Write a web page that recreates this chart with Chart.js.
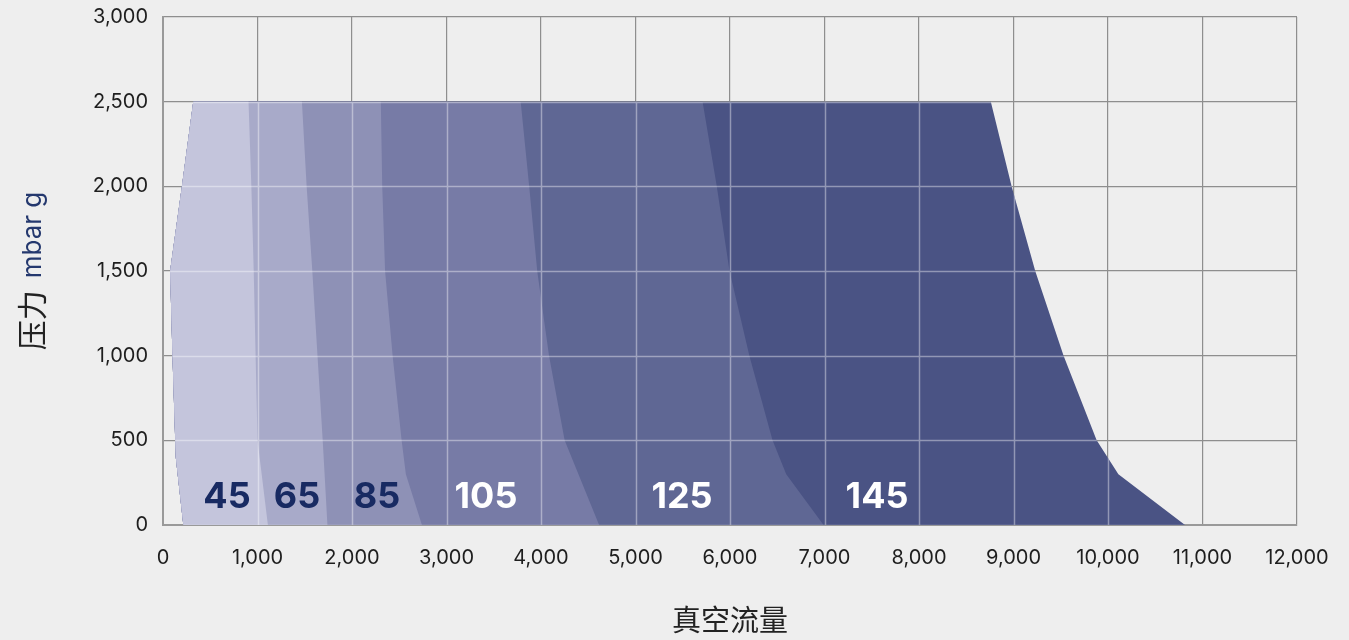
<!DOCTYPE html>
<html lang="zh">
<head>
<meta charset="utf-8">
<title>压力 / 真空流量</title>
<script src="https://cdn.jsdelivr.net/npm/chart.js@4.4.1/dist/chart.umd.min.js"></script>
<style>
  html, body { margin: 0; padding: 0; background: #eeeeee; }
  #wrap { width: 1349px; height: 640px; position: relative; }
</style>
</head>
<body>
<div id="wrap"><canvas id="chart"></canvas></div>
<script>
// =============================================
// Pressure / vacuum flow envelopes per model
// =============================================

const MODELS = ["45", "65", "85", "105", "125", "145"];
const MODEL_COLORS = ["#c4c5dc", "#a8aac9", "#8e91b6", "#777ba6", "#5f6794", "#4a5384"];

// shared left edge of every envelope, bottom to top
const LEFT_FLOW = [215, 135, 100, 75, 200, 320];
const LEFT_PRES = [0, 400, 1000, 1500, 2000, 2500];

// right edge of each model, top to bottom
const FLOW_45 = [905, 935, 960, 980, 1000, 1110];
const PRES_45 = [2500, 2000, 1500, 1000, 500, 0];
const FLOW_65 = [1470, 1520, 1580, 1635, 1690, 1740];
const PRES_65 = [2500, 2000, 1500, 1000, 500, 0];
const FLOW_85 = [2305, 2320, 2350, 2430, 2525, 2570, 2740];
const PRES_85 = [2500, 2000, 1500, 1000, 500, 300, 0];
const FLOW_105 = [3785, 3875, 3960, 4085, 4250, 4615];
const PRES_105 = [2500, 2000, 1500, 1000, 500, 0];
const FLOW_125 = [5710, 5860, 5995, 6205, 6450, 6595, 6990];
const PRES_125 = [2500, 2000, 1500, 1000, 500, 300, 0];
const FLOW_145 = [8760, 8980, 9230, 9530, 9880, 10110, 10815];
const PRES_145 = [2500, 2000, 1500, 1000, 500, 300, 0];

const RIGHT_FLOW = [FLOW_45, FLOW_65, FLOW_85, FLOW_105, FLOW_125, FLOW_145];
const RIGHT_PRES = [PRES_45, PRES_65, PRES_85, PRES_105, PRES_125, PRES_145];

const X_TITLE = "真空流量";
const Y_TITLE = "压力";
const Y_UNIT = "mbar g";

function _envelope(flow, pres) {
    const pts = LEFT_FLOW.map((x, i) => ({ x, y: LEFT_PRES[i] }));
    flow.forEach((x, i) => pts.push({ x, y: pres[i] }));
    return pts;
}

// light grid lines on top of the filled areas
const gridOverlay = {
    id: "gridOverlay",
    afterDatasetsDraw(chart, args, opts) {
        const { ctx, scales: { x, y } } = chart;
        const pts = chart.getDatasetMeta(opts.clipDataset).data;
        ctx.save();
        ctx.beginPath();
        pts.forEach((p, i) => (i ? ctx.lineTo(p.x, p.y) : ctx.moveTo(p.x, p.y)));
        ctx.closePath();
        ctx.clip();
        ctx.strokeStyle = opts.color;
        ctx.lineWidth = opts.width;
        ctx.beginPath();
        x.ticks.forEach(t => {
            const px = Math.round(x.getPixelForValue(t.value)) + 0.5;
            ctx.moveTo(px, y.top);
            ctx.lineTo(px, y.bottom);
        });
        y.ticks.forEach(t => {
            const py = Math.round(y.getPixelForValue(t.value)) + 0.5;
            ctx.moveTo(x.left, py);
            ctx.lineTo(x.right, py);
        });
        ctx.stroke();
        ctx.restore();
    },
};

// model numbers inside each band
const modelLabels = {
    id: "modelLabels",
    afterDatasetsDraw(chart, args, opts) {
        const { ctx, scales: { x, y } } = chart;
        ctx.save();
        ctx.font = opts.font;
        ctx.textAlign = "center";
        ctx.textBaseline = "middle";
        MODELS.forEach((m, i) => {
            ctx.fillStyle = i < 3 ? opts.dark : opts.light;
            ctx.fillText(m, x.getPixelForValue(opts.at[i]), y.getPixelForValue(opts.pressure));
        });
        ctx.restore();
    },
};

// two-colour rotated y title
const yTitle = {
    id: "yTitle",
    afterDraw(chart, args, opts) {
        const { ctx, chartArea } = chart;
        const cy = (chartArea.top + chartArea.bottom) / 2;
        ctx.save();
        ctx.translate(opts.x, cy);
        ctx.rotate(-Math.PI / 2);
        ctx.textBaseline = "alphabetic";
        ctx.textAlign = "left";
        ctx.font = opts.cjkFont;
        const w1 = ctx.measureText(Y_TITLE).width;
        ctx.font = opts.unitFont;
        const w2 = ctx.measureText(Y_UNIT).width;
        const start = -(w1 + opts.gap + w2) / 2;
        ctx.font = opts.cjkFont;
        ctx.fillStyle = "#222222";
        ctx.fillText(Y_TITLE, start, 2);
        ctx.font = opts.unitFont;
        ctx.fillStyle = "#24386e";
        ctx.fillText(Y_UNIT, start + w1 + opts.gap, 0);
        ctx.restore();
    },
};

Chart.defaults.font.family = "Inter, 'Noto Sans', sans-serif";
Chart.defaults.color = "#1e1e1e";

const ctx = document.getElementById("chart");
new Chart(ctx, {
    type: "scatter",
    data: {
        datasets: MODELS.map((m, i) => ({
            label: m,
            data: _envelope(RIGHT_FLOW[i], RIGHT_PRES[i]),
            showLine: true,
            fill: "shape",
            backgroundColor: MODEL_COLORS[i],
            borderColor: "transparent",
            borderWidth: 0,
            pointRadius: 0,
            pointHoverRadius: 0,
            tension: 0,
        })),
    },
    options: {
        responsive: true,
        maintainAspectRatio: false,
        animation: false,
        locale: "en-US",
        layout: { padding: { top: 17, right: 52, left: 0, bottom: 0 } },
        plugins: {
            legend: { display: false },
            tooltip: { enabled: false },
            gridOverlay: { clipDataset: 5, color: "rgba(255,255,255,0.4)", width: 1.5 },
            modelLabels: {
                at: [677, 1418, 2265, 3418, 5492, 7556],
                pressure: 165,
                font: "bold 36px Inter, 'Noto Sans', sans-serif",
                dark: "#182a62",
                light: "#ffffff",
            },
            yTitle: {
                x: 41,
                gap: 12,
                cjkFont: "30px 'Noto Sans CJK SC'",
                unitFont: "26px Inter, 'Noto Sans', sans-serif",
            },
        },
        scales: {
            x: {
                type: "linear",
                min: 0,
                max: 12000,
                ticks: { stepSize: 1000, padding: 21, font: { size: 20 }, color: "#1e1e1e" },
                grid: { color: "#8e8e8e", lineWidth: 1.2, drawTicks: false },
                border: { color: "#999999", width: 2 },
                title: {
                    display: true,
                    text: X_TITLE,
                    color: "#222222",
                    font: { family: "'Noto Sans CJK SC'", size: 29 },
                    padding: { top: 0, bottom: 3 },
                },
                afterFit: s => { s.height = 115; s.paddingLeft = 0; s.paddingRight = 0; },
            },
            y: {
                type: "linear",
                min: 0,
                max: 3000,
                ticks: { stepSize: 500, padding: 15, font: { size: 20 }, color: "#1e1e1e" },
                grid: { color: "#8e8e8e", lineWidth: 1.2, drawTicks: false },
                border: { color: "#999999", width: 2 },
                afterFit: s => { s.width = 163; s.paddingTop = 0; s.paddingBottom = 0; },
            },
        },
    },
    plugins: [gridOverlay, modelLabels, yTitle],
});
</script>
</body>
</html>
